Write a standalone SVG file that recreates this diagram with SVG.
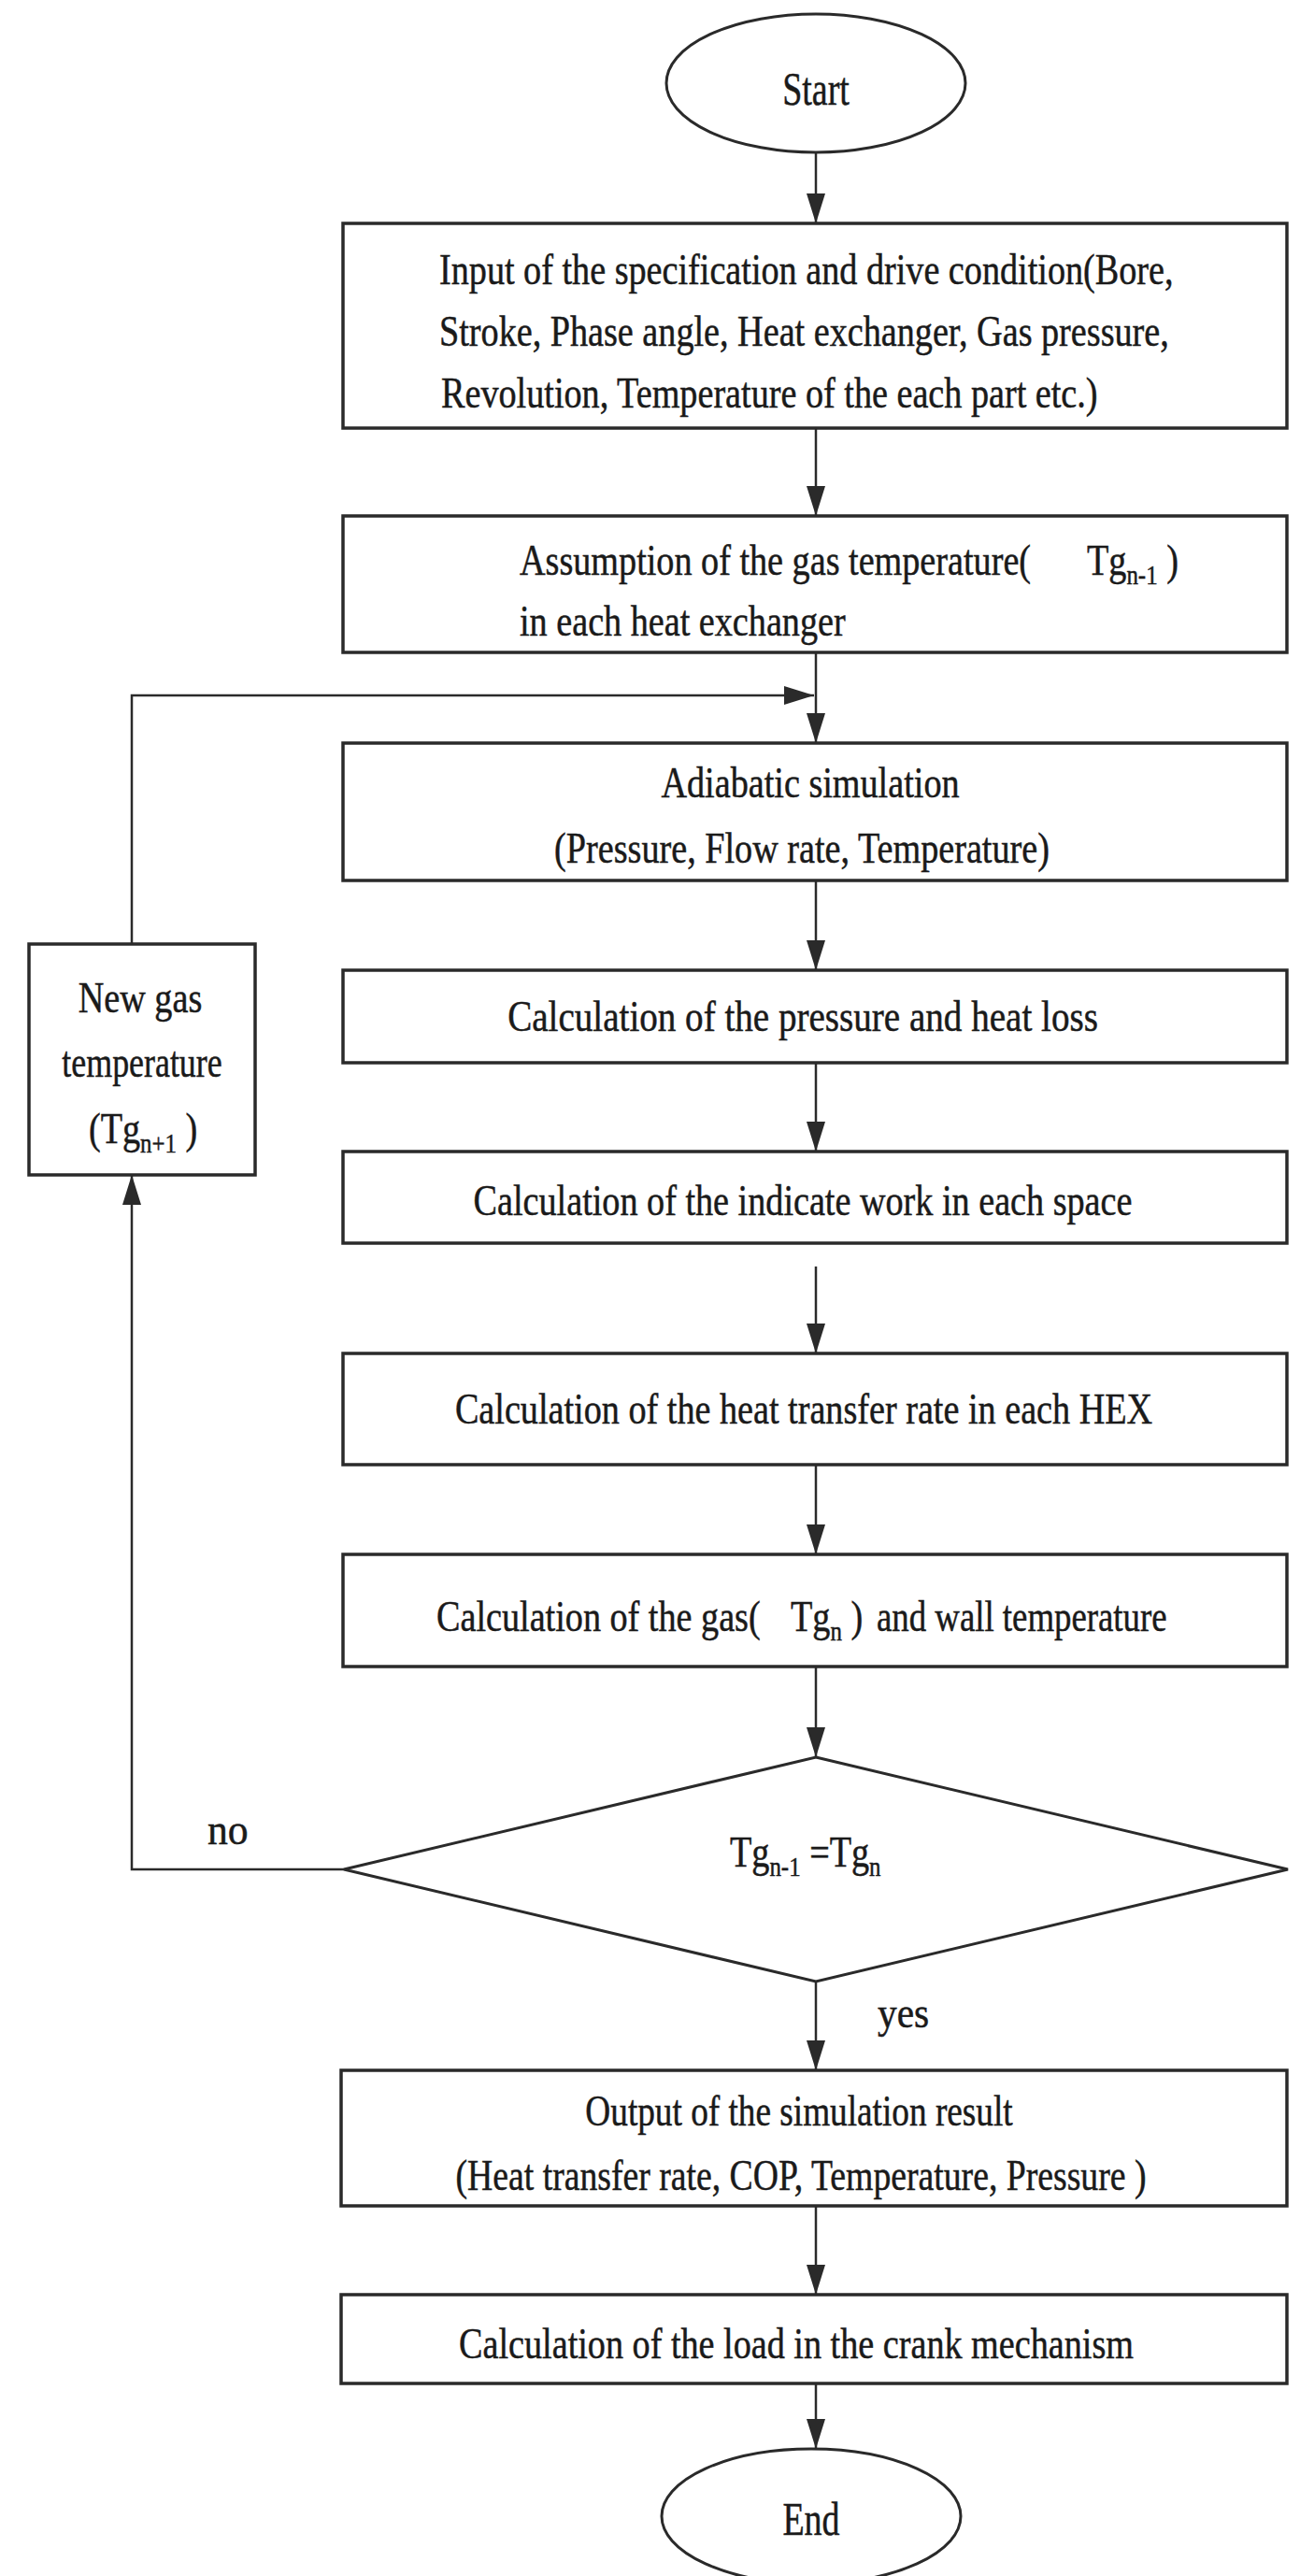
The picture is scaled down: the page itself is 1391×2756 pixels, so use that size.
<svg xmlns="http://www.w3.org/2000/svg" width="1391" height="2756" viewBox="0 0 1391 2756">
<style>
.box{fill:#fff;stroke:#2a2a2a;stroke-width:3.5}
.term{fill:#fff;stroke:#2a2a2a;stroke-width:3}
.conn{fill:none;stroke:#2a2a2a;stroke-width:2.5}
text{font-family:"Liberation Serif","Times New Roman",serif;font-size:46px;fill:#1a1a1a;stroke:#1a1a1a;stroke-width:0.5}
.big{font-size:50px}
.sub{font-size:30px}
.mid{text-anchor:middle}
</style>
<defs>
<marker id="ah" markerUnits="userSpaceOnUse" markerWidth="32" markerHeight="20" refX="32" refY="10" orient="auto">
<path d="M0,0 L32,10 L0,20 z" fill="#2a2a2a"/>
</marker>
</defs>
<rect width="1391" height="2756" fill="#fff"/>
<g id="connectors">
<line class="conn" x1="873" y1="163" x2="873" y2="239" marker-end="url(#ah)"/>
<line class="conn" x1="873" y1="458" x2="873" y2="552" marker-end="url(#ah)"/>
<line class="conn" x1="873" y1="698" x2="873" y2="795" marker-end="url(#ah)"/>
<path class="conn" d="M141,1010 V744 H871" marker-end="url(#ah)"/>
<line class="conn" x1="873" y1="942" x2="873" y2="1038" marker-end="url(#ah)"/>
<line class="conn" x1="873" y1="1137" x2="873" y2="1232" marker-end="url(#ah)"/>
<line class="conn" x1="873" y1="1355" x2="873" y2="1448" marker-end="url(#ah)"/>
<line class="conn" x1="873" y1="1567" x2="873" y2="1663" marker-end="url(#ah)"/>
<line class="conn" x1="873" y1="1783" x2="873" y2="1880" marker-end="url(#ah)"/>
<path class="conn" d="M368,2000 H141 V1257" marker-end="url(#ah)"/>
<line class="conn" x1="873" y1="2120" x2="873" y2="2215" marker-end="url(#ah)"/>
<line class="conn" x1="873" y1="2360" x2="873" y2="2455" marker-end="url(#ah)"/>
<line class="conn" x1="873" y1="2550" x2="873" y2="2620" marker-end="url(#ah)"/>
<text transform="translate(222,1973) scale(0.95,1)">no</text>
<text transform="translate(939,2169) scale(0.9,1)">yes</text>
</g>
<g id="start">
<ellipse class="term" cx="873" cy="89" rx="160" ry="74"/>
<text class="big mid" transform="translate(873,112) scale(0.76,1)">Start</text>
</g>
<g id="input">
<rect class="box" x="367" y="239" width="1010" height="219"/>
<text transform="translate(470,304) scale(0.83,1)">Input of the specification and drive condition(Bore,</text>
<text transform="translate(470,370) scale(0.83,1)">Stroke, Phase angle, Heat exchanger, Gas pressure,</text>
<text transform="translate(472,436) scale(0.83,1)">Revolution, Temperature of the each part etc.)</text>
</g>
<g id="assumption">
<rect class="box" x="367" y="552" width="1010" height="146"/>
<text transform="translate(556,615) scale(0.83,1)">Assumption of the gas temperature(</text>
<text transform="translate(1163,615) scale(0.83,1)">Tg<tspan class="sub" dy="10">n-1</tspan><tspan dy="-10"> )</tspan></text>
<text transform="translate(556,680) scale(0.83,1)">in each heat exchanger</text>
</g>
<g id="adiabatic">
<rect class="box" x="367" y="795" width="1010" height="147"/>
<text class="mid" transform="translate(867,853) scale(0.83,1)">Adiabatic simulation</text>
<text class="mid" transform="translate(858,923) scale(0.83,1)">(Pressure, Flow rate, Temperature)</text>
</g>
<g id="pressure-loss">
<rect class="box" x="367" y="1038" width="1010" height="99"/>
<text class="mid" transform="translate(859,1103) scale(0.85,1)">Calculation of the pressure and heat loss</text>
</g>
<g id="indicate-work">
<rect class="box" x="367" y="1232" width="1010" height="98"/>
<text class="mid" transform="translate(859,1300) scale(0.83,1)">Calculation of the indicate work in each space</text>
</g>
<g id="heat-transfer">
<rect class="box" x="367" y="1448" width="1010" height="119"/>
<text class="mid" transform="translate(860,1523) scale(0.83,1)">Calculation of the heat transfer rate in each HEX</text>
</g>
<g id="gas-wall">
<rect class="box" x="367" y="1663" width="1010" height="120"/>
<text transform="translate(467,1745) scale(0.83,1)">Calculation of the gas(</text>
<text transform="translate(846,1745) scale(0.83,1)">Tg<tspan class="sub" dy="10">n</tspan><tspan dy="-10"> )</tspan></text>
<text transform="translate(938,1745) scale(0.8,1)">and wall temperature</text>
</g>
<g id="decision">
<polygon class="term" points="873,1880 1378,2000 873,2120 368,2000"/>
<text transform="translate(781,1997) scale(0.83,1)">Tg<tspan class="sub" dy="10">n-1</tspan><tspan dy="-10"> =Tg</tspan><tspan class="sub" dy="10">n</tspan></text>
</g>
<g id="new-gas">
<rect class="box" x="31" y="1010" width="242" height="247"/>
<text class="mid" transform="translate(150,1083) scale(0.83,1)">New gas</text>
<text class="mid" transform="translate(152,1152) scale(0.78,1)">temperature</text>
<text transform="translate(95,1223) scale(0.83,1)">(Tg<tspan class="sub" dy="10">n+1</tspan><tspan dy="-10"> )</tspan></text>
</g>
<g id="output">
<rect class="box" x="365" y="2215" width="1012" height="145"/>
<text class="mid" transform="translate(855,2274) scale(0.81,1)">Output of the simulation result</text>
<text class="mid" transform="translate(857,2343) scale(0.82,1)">(Heat transfer rate, COP, Temperature, Pressure )</text>
</g>
<g id="crank">
<rect class="box" x="365" y="2455" width="1012" height="95"/>
<text class="mid" transform="translate(852,2523) scale(0.83,1)">Calculation of the load in the crank mechanism</text>
</g>
<g id="end">
<ellipse class="term" cx="868" cy="2692" rx="160" ry="72"/>
<text class="big mid" transform="translate(868,2712) scale(0.76,1)">End</text>
</g>
</svg>
